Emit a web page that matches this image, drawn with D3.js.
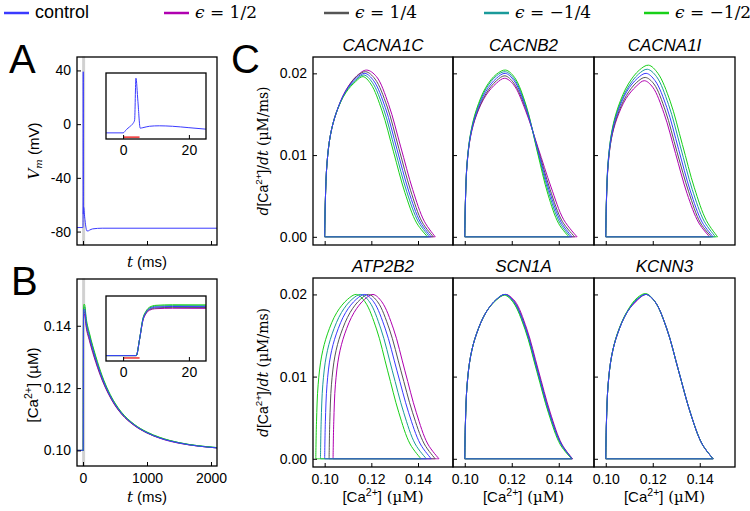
<!DOCTYPE html>
<html>
<head>
<meta charset="utf-8">
<script src="https://cdn.jsdelivr.net/npm/d3@7"></script>
<style>
  body { margin: 0; background: #fff; }
</style>
</head>
<body>
<script>
// ---- series ----
var seriesLabels = ["control", "1/2", "1/4", "\u22121/4", "\u22121/2"];
var seriesColors = ["#3a3aff", "#b000b0", "#555555", "#1a9a9a", "#18d018"];
var drawOrder = [1, 2, 3, 4, 0];

// ---- panel A: membrane potential (control) ----
var vTime = [-100, -5, 0, 1, 2, 3, 3.5, 3.9, 4.5, 5.2, 6, 8, 11, 15, 20, 25, 30, 40, 50, 60, 80, 100, 150, 300, 1000, 2100];
var vMem = [-77, -77, -77, -70, -64, -57, -50, 39, -10, -67, -66, -63, -62, -63, -66, -69, -71, -75, -78, -79.5, -79.5, -79, -78, -77.5, -77.5, -77.5];

// ---- panel B: [Ca2+] for each series ----
var caTime = [-100, -5, 0, 4, 5, 6, 7, 8, 10, 15, 25, 50, 100, 200, 300, 400, 500, 600, 800, 1000, 1200, 1500, 1800, 2100];
var caControl = [0.1, 0.1, 0.1, 0.1, 0.1150, 0.1330, 0.1400, 0.1432, 0.1448, 0.1453, 0.1452, 0.1410, 0.1365, 0.1292, 0.1232, 0.1185, 0.1148, 0.1120, 0.1082, 0.1057, 0.1040, 0.1024, 0.1014, 0.1008];
var caPlusHalf = [0.1, 0.1, 0.1, 0.1, 0.1148, 0.1320, 0.1388, 0.1418, 0.1433, 0.1437, 0.1436, 0.1395, 0.1352, 0.1282, 0.1225, 0.1180, 0.1144, 0.1117, 0.1080, 0.1056, 0.1039, 0.1023, 0.1014, 0.1008];
var caPlusQuarter = [0.1, 0.1, 0.1, 0.1, 0.1149, 0.1325, 0.1394, 0.1425, 0.1440, 0.1445, 0.1444, 0.1402, 0.1358, 0.1287, 0.1228, 0.1182, 0.1146, 0.1118, 0.1081, 0.1056, 0.1040, 0.1024, 0.1014, 0.1008];
var caMinusQuarter = [0.1, 0.1, 0.1, 0.1, 0.1151, 0.1335, 0.1406, 0.1439, 0.1456, 0.1461, 0.1460, 0.1417, 0.1371, 0.1297, 0.1235, 0.1187, 0.1150, 0.1121, 0.1083, 0.1058, 0.1041, 0.1025, 0.1015, 0.1009];
var caMinusHalf = [0.1, 0.1, 0.1, 0.1, 0.1152, 0.1340, 0.1412, 0.1446, 0.1464, 0.1469, 0.1468, 0.1424, 0.1377, 0.1302, 0.1239, 0.1190, 0.1152, 0.1123, 0.1084, 0.1059, 0.1042, 0.1025, 0.1015, 0.1009];
var stimTime = [0, 5];

// ---- panel C: phase loops, [Ca] (x) and d[Ca]/dt (y); order control, +1/2, +1/4, -1/4, -1/2 ----
var genes = ["CACNA1C", "CACNB2", "CACNA1I", "ATP2B2", "SCN1A", "KCNN3"];

var xCACNA1C = [
  [0.1000, 0.1003, 0.1010, 0.1025, 0.1050, 0.1090, 0.1135, 0.1172, 0.1210, 0.1260, 0.1310, 0.1360, 0.1410, 0.1457],
  [0.1000, 0.1003, 0.1010, 0.1025, 0.1050, 0.1090, 0.1138, 0.1180, 0.1222, 0.1274, 0.1326, 0.1377, 0.1427, 0.1474],
  [0.1000, 0.1003, 0.1010, 0.1025, 0.1050, 0.1090, 0.1136, 0.1176, 0.1216, 0.1267, 0.1318, 0.1368, 0.1418, 0.1466],
  [0.1000, 0.1003, 0.1010, 0.1025, 0.1050, 0.1090, 0.1134, 0.1168, 0.1204, 0.1253, 0.1302, 0.1352, 0.1402, 0.1449],
  [0.1000, 0.1003, 0.1010, 0.1025, 0.1050, 0.1090, 0.1133, 0.1164, 0.1198, 0.1246, 0.1295, 0.1344, 0.1394, 0.1441]
];
var yCACNA1C = [
  [0, 0.0045, 0.0090, 0.0125, 0.0152, 0.0178, 0.0194, 0.0200, 0.0191, 0.0158, 0.0107, 0.0056, 0.0018, 0],
  [0, 0.0045, 0.0090, 0.0125, 0.0152, 0.0179, 0.0197, 0.0204, 0.0196, 0.0162, 0.0110, 0.0058, 0.0019, 0],
  [0, 0.0045, 0.0090, 0.0125, 0.0152, 0.0178, 0.0196, 0.0202, 0.0193, 0.0160, 0.0108, 0.0057, 0.0018, 0],
  [0, 0.0045, 0.0090, 0.0125, 0.0152, 0.0177, 0.0192, 0.0198, 0.0189, 0.0156, 0.0106, 0.0055, 0.0018, 0],
  [0, 0.0045, 0.0090, 0.0125, 0.0152, 0.0176, 0.0190, 0.0196, 0.0187, 0.0154, 0.0104, 0.0054, 0.0017, 0]
];

var xCACNB2 = [
  [0.1000, 0.1003, 0.1010, 0.1025, 0.1050, 0.1090, 0.1135, 0.1172, 0.1210, 0.1260, 0.1310, 0.1360, 0.1410, 0.1457],
  [0.1000, 0.1003, 0.1010, 0.1025, 0.1050, 0.1090, 0.1135, 0.1170, 0.1208, 0.1258, 0.1312, 0.1367, 0.1421, 0.1478],
  [0.1000, 0.1003, 0.1010, 0.1025, 0.1050, 0.1090, 0.1135, 0.1171, 0.1209, 0.1259, 0.1311, 0.1363, 0.1415, 0.1468],
  [0.1000, 0.1003, 0.1010, 0.1025, 0.1050, 0.1090, 0.1135, 0.1173, 0.1211, 0.1261, 0.1309, 0.1357, 0.1405, 0.1450],
  [0.1000, 0.1003, 0.1010, 0.1025, 0.1050, 0.1090, 0.1135, 0.1174, 0.1212, 0.1262, 0.1308, 0.1354, 0.1400, 0.1443]
];
var yCACNB2 = [
  [0, 0.0045, 0.0090, 0.0125, 0.0152, 0.0178, 0.0194, 0.0200, 0.0191, 0.0158, 0.0107, 0.0056, 0.0018, 0],
  [0, 0.0045, 0.0089, 0.0123, 0.0149, 0.0173, 0.0188, 0.0194, 0.0186, 0.0155, 0.0109, 0.0061, 0.0021, 0],
  [0, 0.0045, 0.0090, 0.0124, 0.0150, 0.0175, 0.0191, 0.0197, 0.0188, 0.0157, 0.0108, 0.0058, 0.0019, 0],
  [0, 0.0045, 0.0090, 0.0126, 0.0154, 0.0181, 0.0197, 0.0202, 0.0193, 0.0159, 0.0106, 0.0054, 0.0017, 0],
  [0, 0.0045, 0.0091, 0.0127, 0.0156, 0.0183, 0.0199, 0.0204, 0.0195, 0.0160, 0.0105, 0.0052, 0.0016, 0]
];

var xCACNA1I = [
  [0.1000, 0.1003, 0.1010, 0.1025, 0.1050, 0.1090, 0.1135, 0.1172, 0.1210, 0.1260, 0.1310, 0.1360, 0.1410, 0.1457],
  [0.1000, 0.1003, 0.1010, 0.1024, 0.1048, 0.1086, 0.1129, 0.1164, 0.1200, 0.1248, 0.1297, 0.1346, 0.1396, 0.1442],
  [0.1000, 0.1003, 0.1010, 0.1025, 0.1049, 0.1088, 0.1132, 0.1168, 0.1205, 0.1254, 0.1303, 0.1353, 0.1403, 0.1450],
  [0.1000, 0.1003, 0.1010, 0.1026, 0.1052, 0.1093, 0.1139, 0.1177, 0.1216, 0.1267, 0.1318, 0.1368, 0.1419, 0.1467],
  [0.1000, 0.1003, 0.1011, 0.1027, 0.1054, 0.1096, 0.1143, 0.1182, 0.1222, 0.1274, 0.1326, 0.1377, 0.1428, 0.1476]
];
var yCACNA1I = [
  [0, 0.0045, 0.0090, 0.0125, 0.0152, 0.0178, 0.0194, 0.0200, 0.0191, 0.0158, 0.0107, 0.0056, 0.0018, 0],
  [0, 0.0044, 0.0087, 0.0120, 0.0145, 0.0169, 0.0184, 0.0191, 0.0183, 0.0151, 0.0102, 0.0053, 0.0017, 0],
  [0, 0.0044, 0.0088, 0.0122, 0.0148, 0.0173, 0.0189, 0.0195, 0.0187, 0.0154, 0.0104, 0.0055, 0.0017, 0],
  [0, 0.0046, 0.0092, 0.0128, 0.0156, 0.0182, 0.0199, 0.0205, 0.0196, 0.0162, 0.0110, 0.0058, 0.0019, 0],
  [0, 0.0047, 0.0094, 0.0131, 0.0160, 0.0187, 0.0204, 0.0210, 0.0200, 0.0166, 0.0113, 0.0060, 0.0020, 0]
];

var xATP2B2 = [
  [0.1000, 0.1003, 0.1010, 0.1025, 0.1050, 0.1090, 0.1135, 0.1172, 0.1210, 0.1260, 0.1310, 0.1360, 0.1410, 0.1457],
  [0.1036, 0.1039, 0.1046, 0.1061, 0.1086, 0.1126, 0.1171, 0.1207, 0.1245, 0.1295, 0.1344, 0.1393, 0.1442, 0.1490],
  [0.1019, 0.1022, 0.1029, 0.1044, 0.1069, 0.1109, 0.1153, 0.1188, 0.1227, 0.1277, 0.1327, 0.1377, 0.1427, 0.1474],
  [0.0982, 0.0985, 0.0992, 0.1007, 0.1032, 0.1072, 0.1117, 0.1155, 0.1192, 0.1241, 0.1290, 0.1339, 0.1388, 0.1436],
  [0.0962, 0.0965, 0.0972, 0.0987, 0.1012, 0.1052, 0.1098, 0.1136, 0.1173, 0.1222, 0.1270, 0.1318, 0.1366, 0.1413]
];
var yATP2B2 = [
  [0, 0.0045, 0.0090, 0.0125, 0.0152, 0.0178, 0.0194, 0.0200, 0.0191, 0.0158, 0.0107, 0.0056, 0.0018, 0],
  [0, 0.0045, 0.0090, 0.0125, 0.0152, 0.0178, 0.0194, 0.0200, 0.0191, 0.0158, 0.0107, 0.0056, 0.0018, 0],
  [0, 0.0045, 0.0090, 0.0125, 0.0152, 0.0178, 0.0194, 0.0200, 0.0191, 0.0158, 0.0107, 0.0056, 0.0018, 0],
  [0, 0.0045, 0.0090, 0.0125, 0.0152, 0.0178, 0.0194, 0.0200, 0.0191, 0.0158, 0.0107, 0.0056, 0.0018, 0],
  [0, 0.0045, 0.0090, 0.0125, 0.0152, 0.0178, 0.0194, 0.0200, 0.0191, 0.0158, 0.0107, 0.0056, 0.0018, 0]
];

var xSCN1A = [
  [0.1000, 0.1003, 0.1010, 0.1025, 0.1050, 0.1090, 0.1135, 0.1172, 0.1210, 0.1260, 0.1310, 0.1360, 0.1410, 0.1457],
  [0.1000, 0.1003, 0.1010, 0.1025, 0.1050, 0.1090, 0.1136, 0.1174, 0.1213, 0.1263, 0.1313, 0.1363, 0.1413, 0.1459],
  [0.1000, 0.1003, 0.1010, 0.1025, 0.1050, 0.1090, 0.1135, 0.1173, 0.1211, 0.1261, 0.1311, 0.1361, 0.1411, 0.1458],
  [0.1000, 0.1003, 0.1010, 0.1025, 0.1050, 0.1090, 0.1134, 0.1171, 0.1209, 0.1259, 0.1309, 0.1359, 0.1409, 0.1456],
  [0.1000, 0.1003, 0.1010, 0.1025, 0.1050, 0.1090, 0.1134, 0.1170, 0.1207, 0.1257, 0.1307, 0.1357, 0.1407, 0.1455]
];
var ySCN1A = [
  [0, 0.0045, 0.0090, 0.0125, 0.0152, 0.0178, 0.0194, 0.0200, 0.0191, 0.0158, 0.0107, 0.0056, 0.0018, 0],
  [0, 0.0045, 0.0090, 0.0125, 0.0152, 0.0178, 0.0194, 0.0200, 0.0192, 0.0159, 0.0108, 0.0057, 0.0018, 0],
  [0, 0.0045, 0.0090, 0.0125, 0.0152, 0.0178, 0.0194, 0.0200, 0.0191, 0.0158, 0.0107, 0.0056, 0.0018, 0],
  [0, 0.0045, 0.0090, 0.0125, 0.0152, 0.0178, 0.0194, 0.0200, 0.0190, 0.0157, 0.0106, 0.0055, 0.0018, 0],
  [0, 0.0045, 0.0090, 0.0125, 0.0152, 0.0178, 0.0193, 0.0199, 0.0190, 0.0157, 0.0106, 0.0055, 0.0017, 0]
];

var xKCNN3 = [
  [0.1000, 0.1003, 0.1010, 0.1025, 0.1050, 0.1090, 0.1135, 0.1172, 0.1210, 0.1260, 0.1310, 0.1360, 0.1410, 0.1457],
  [0.1000, 0.1003, 0.1010, 0.1025, 0.1050, 0.1090, 0.1135, 0.1172, 0.1210, 0.1260, 0.1310, 0.1360, 0.1410, 0.1457],
  [0.1000, 0.1003, 0.1010, 0.1025, 0.1050, 0.1090, 0.1135, 0.1172, 0.1210, 0.1260, 0.1310, 0.1360, 0.1410, 0.1457],
  [0.1000, 0.1003, 0.1010, 0.1025, 0.1050, 0.1090, 0.1135, 0.1172, 0.1210, 0.1260, 0.1310, 0.1360, 0.1410, 0.1457],
  [0.1000, 0.1003, 0.1010, 0.1025, 0.1050, 0.1090, 0.1134, 0.1171, 0.1210, 0.1260, 0.1310, 0.1360, 0.1410, 0.1457]
];
var yKCNN3 = [
  [0, 0.0045, 0.0090, 0.0125, 0.0152, 0.0178, 0.0194, 0.0200, 0.0191, 0.0158, 0.0107, 0.0056, 0.0018, 0],
  [0, 0.0045, 0.0090, 0.0125, 0.0152, 0.0178, 0.0193, 0.0200, 0.0191, 0.0158, 0.0107, 0.0056, 0.0018, 0],
  [0, 0.0045, 0.0090, 0.0125, 0.0152, 0.0178, 0.0194, 0.0200, 0.0191, 0.0158, 0.0107, 0.0056, 0.0018, 0],
  [0, 0.0045, 0.0090, 0.0125, 0.0152, 0.0178, 0.0195, 0.0200, 0.0191, 0.0158, 0.0107, 0.0056, 0.0018, 0],
  [0, 0.0045, 0.0090, 0.0125, 0.0153, 0.0179, 0.0196, 0.0201, 0.0191, 0.0158, 0.0107, 0.0056, 0.0018, 0]
];

var caX = [xCACNA1C, xCACNB2, xCACNA1I, xATP2B2, xSCN1A, xKCNN3];
var caY = [yCACNA1C, yCACNB2, yCACNA1I, yATP2B2, ySCN1A, yKCNN3];

// ---- ticks ----
var tTicks = [0, 1000, 2000];
var vTicks = [-80, -40, 0, 40];
var bTicks = [0.10, 0.12, 0.14];
var insetTicks = [0, 20];
var cxTicks = [0.10, 0.12, 0.14];
var cyTicks = [0.00, 0.01, 0.02];

var W = 750, H = 511;
var FONT = "'Liberation Sans', Arial, sans-serif";
var SERIF = "'DejaVu Serif', 'Liberation Serif', serif";

var svg = d3.select("body").append("svg")
    .attr("width", W)
    .attr("height", H)
    .style("font-family", FONT);

var clipCount = 0;
function clipFor(x, y) {
    var id = "clip" + (clipCount++);
    svg.append("clipPath").attr("id", id)
        .append("rect")
        .attr("x", x.range()[0]).attr("y", y.range()[1])
        .attr("width", x.range()[1] - x.range()[0])
        .attr("height", y.range()[0] - y.range()[1]);
    return "url(#" + id + ")";
}

function frame(x, y) {
    svg.append("rect")
        .attr("x", x.range()[0]).attr("y", y.range()[1])
        .attr("width", x.range()[1] - x.range()[0])
        .attr("height", y.range()[0] - y.range()[1])
        .attr("fill", "none")
        .attr("stroke", "#000")
        .attr("stroke-width", 1.3);
}

function styleAxis(a) {
    a.select(".domain").remove();
    a.attr("font-family", FONT).attr("font-size", 14);
    a.selectAll("line").attr("stroke", "#000");
    a.selectAll("text").attr("fill", "#000");
}

function xAxis(x, y, ticks, fmt, pad) {
    svg.append("g")
        .attr("transform", "translate(0," + y.range()[0] + ")")
        .call(d3.axisBottom(x).tickValues(ticks).tickSizeInner(-4).tickSizeOuter(0)
            .tickPadding(pad || 7).tickFormat(fmt || ""))
        .call(styleAxis);
}

function yAxis(x, y, ticks, fmt) {
    svg.append("g")
        .attr("transform", "translate(" + x.range()[0] + ",0)")
        .call(d3.axisLeft(y).tickValues(ticks).tickSizeInner(-4).tickSizeOuter(0)
            .tickPadding(6).tickFormat(fmt || ""))
        .call(styleAxis);
}

function letter(t, x, y) {
    svg.append("text").attr("x", x).attr("y", y)
        .attr("font-size", 40).text(t);
}

function tLabel(cx, by) {
    var t = svg.append("text").attr("x", cx).attr("y", by)
        .attr("text-anchor", "middle").attr("font-size", 15);
    t.append("tspan").attr("font-family", SERIF).attr("font-style", "italic").text("t");
    t.append("tspan").text(" (ms)");
}

function caLabel(t, size) {
    t.append("tspan").text("[Ca");
    t.append("tspan").attr("font-size", size * 0.7).attr("dy", -size * 0.4).text("2+");
    t.append("tspan").attr("dy", size * 0.4).text("]");
}

var fmt2 = d3.format(".2f");

// ================= Panel A =================
var xA = d3.scaleLinear().domain([-94, 2094]).range([77, 217]);
var yA = d3.scaleLinear().domain([-90, 50]).range([245, 57]);

svg.append("rect")
    .attr("x", xA(-5)).attr("y", yA.range()[1])
    .attr("width", xA(25) - xA(-5))
    .attr("height", yA.range()[0] - yA.range()[1])
    .attr("fill", "#d0d0d0").attr("stroke", "#d0d0d0").attr("stroke-width", 1);

var vPoints = vTime.map(function (t, i) { return [t, vMem[i]]; });
var lineA = d3.line().x(function (d) { return xA(d[0]); }).y(function (d) { return yA(d[1]); })
    .curve(d3.curveMonotoneX);
svg.append("path").attr("d", lineA(vPoints)).attr("clip-path", clipFor(xA, yA))
    .attr("fill", "none").attr("stroke", seriesColors[0]).attr("stroke-width", 1);
frame(xA, yA);
yAxis(xA, yA, vTicks, function (d) { return String(d); });
xAxis(xA, yA, tTicks, "");

// inset A
var xAi = d3.scaleLinear().domain([-5.2, 25.2]).range([106, 206]);
var yAi = d3.scaleLinear().domain([-90, 50]).range([139, 73]);
svg.append("rect").attr("x", 106).attr("y", 73).attr("width", 100).attr("height", 66).attr("fill", "#fff");
var lineAi = d3.line().x(function (d) { return xAi(d[0]); }).y(function (d) { return yAi(d[1]); })
    .curve(d3.curveMonotoneX);
svg.append("path").attr("d", lineAi(vPoints)).attr("clip-path", clipFor(xAi, yAi))
    .attr("fill", "none").attr("stroke", seriesColors[0]).attr("stroke-width", 1);
svg.append("line")
    .attr("x1", xAi(stimTime[0])).attr("x2", xAi(stimTime[1]))
    .attr("y1", yAi(-86)).attr("y2", yAi(-86))
    .attr("stroke", "#ee1111").attr("stroke-width", 1.3);
frame(xAi, yAi);
xAxis(xAi, yAi, insetTicks, function (d) { return String(d); }, 6);

letter("A", 9, 73);
var vl = svg.append("text").attr("transform", "translate(39,151) rotate(-90)")
    .attr("text-anchor", "middle").attr("font-size", 15);
vl.append("tspan").attr("font-family", SERIF).attr("font-style", "italic").text("V");
vl.append("tspan").attr("font-family", SERIF).attr("font-style", "italic")
    .attr("font-size", 10).attr("dy", 3).text("m");
vl.append("tspan").attr("dy", -3).text(" (mV)");
tLabel(147, 267);

// ================= Panel B =================
var xB = d3.scaleLinear().domain([-94, 2094]).range([77, 217]);
var yB = d3.scaleLinear().domain([0.095, 0.155]).range([466, 279]);
var caSeries = [caControl, caPlusHalf, caPlusQuarter, caMinusQuarter, caMinusHalf];

svg.append("rect")
    .attr("x", xB(-5)).attr("y", yB.range()[1])
    .attr("width", xB(25) - xB(-5))
    .attr("height", yB.range()[0] - yB.range()[1])
    .attr("fill", "#d0d0d0").attr("stroke", "#d0d0d0").attr("stroke-width", 1);

var clipB = clipFor(xB, yB);
var lineB = d3.line().x(function (d) { return xB(d[0]); }).y(function (d) { return yB(d[1]); })
    .curve(d3.curveMonotoneX);
drawOrder.forEach(function (s) {
    var pts = caTime.map(function (t, i) { return [t, caSeries[s][i]]; });
    svg.append("path").attr("d", lineB(pts)).attr("clip-path", clipB)
        .attr("fill", "none").attr("stroke", seriesColors[s]).attr("stroke-width", 1);
});
frame(xB, yB);
yAxis(xB, yB, bTicks, fmt2);
xAxis(xB, yB, tTicks, function (d) { return String(d); });

// inset B
var xBi = d3.scaleLinear().domain([-5.2, 25.2]).range([106, 206]);
var yBi = d3.scaleLinear().domain([0.095, 0.155]).range([361, 296]);
svg.append("rect").attr("x", 106).attr("y", 296).attr("width", 100).attr("height", 65).attr("fill", "#fff");
var clipBi = clipFor(xBi, yBi);
var lineBi = d3.line().x(function (d) { return xBi(d[0]); }).y(function (d) { return yBi(d[1]); })
    .curve(d3.curveMonotoneX);
drawOrder.forEach(function (s) {
    var pts = caTime.map(function (t, i) { return [t, caSeries[s][i]]; });
    svg.append("path").attr("d", lineBi(pts)).attr("clip-path", clipBi)
        .attr("fill", "none").attr("stroke", seriesColors[s]).attr("stroke-width", 1);
});
svg.append("line")
    .attr("x1", xBi(stimTime[0])).attr("x2", xBi(stimTime[1]))
    .attr("y1", yBi(0.0978)).attr("y2", yBi(0.0978))
    .attr("stroke", "#ee1111").attr("stroke-width", 1.3);
frame(xBi, yBi);
xAxis(xBi, yBi, insetTicks, function (d) { return String(d); }, 6);

letter("B", 11, 295);
var bl = svg.append("text").attr("transform", "translate(38,385) rotate(-90)")
    .attr("text-anchor", "middle").attr("font-size", 15);
caLabel(bl, 15);
bl.append("tspan").text(" (\u00b5M)");
tLabel(147, 502);

// ================= Panel C =================
var colX = [313, 453, 594, 735];
var rowY = [[57, 245], [278, 467]];
var loop = d3.line().curve(d3.curveCatmullRom.alpha(0.5));

genes.forEach(function (gene, gi) {
    var r = Math.floor(gi / 3), c = gi % 3;
    var x = d3.scaleLinear().domain([0.095, 0.155]).range([colX[c], colX[c + 1]]);
    var y = d3.scaleLinear().domain([-0.001, 0.022]).range([rowY[r][1], rowY[r][0]]);
    var g = svg.append("g");

    drawOrder.forEach(function (s) {
        var xs = caX[gi][s], ys = caY[gi][s];
        var pts = xs.map(function (v, k) { return [x(v), y(ys[k])]; });
        g.append("path").attr("d", loop(pts))
            .attr("fill", "none").attr("stroke", seriesColors[s]).attr("stroke-width", 1);
    });
    // return branch along d[Ca]/dt = 0
    drawOrder.forEach(function (s) {
        var xs = caX[gi][s];
        g.append("line")
            .attr("x1", x(xs[xs.length - 1])).attr("x2", x(xs[0]))
            .attr("y1", y(0)).attr("y2", y(0))
            .attr("stroke", seriesColors[s]).attr("stroke-opacity", 0.8).attr("stroke-width", 1);
    });

    frame(x, y);
    yAxis(x, y, cyTicks, c === 0 ? fmt2 : "");
    xAxis(x, y, cxTicks, r === 1 ? fmt2 : "");

    svg.append("text")
        .attr("x", (colX[c] + colX[c + 1]) / 2).attr("y", rowY[r][0] - 6)
        .attr("text-anchor", "middle").attr("font-size", 17).attr("font-style", "italic")
        .text(gene);

    if (c === 0) {
        var yl = svg.append("text")
            .attr("transform", "translate(268," + (rowY[r][0] + rowY[r][1]) / 2 + ") rotate(-90)")
            .attr("text-anchor", "middle").attr("font-size", 14);
        yl.append("tspan").attr("font-family", SERIF).attr("font-style", "italic").text("d");
        caLabel(yl, 14);
        yl.append("tspan").attr("font-family", SERIF).text("/");
        yl.append("tspan").attr("font-family", SERIF).attr("font-style", "italic").text("dt");
        yl.append("tspan").attr("font-family", SERIF).text(" (\u00b5M/ms)");
    }
    if (r === 1) {
        var xl = svg.append("text")
            .attr("x", (colX[c] + colX[c + 1]) / 2).attr("y", 502)
            .attr("text-anchor", "middle").attr("font-size", 15);
        caLabel(xl, 15);
        xl.append("tspan").attr("font-family", SERIF).text(" (\u00b5M)");
    }
});
letter("C", 231, 73);

// ================= Legend =================
seriesLabels.forEach(function (name, i) {
    var lx = 4 + i * 160;
    svg.append("line")
        .attr("x1", lx).attr("x2", lx + 25).attr("y1", 13).attr("y2", 13)
        .attr("stroke", seriesColors[i]).attr("stroke-width", 2.5);
    var t = svg.append("text").attr("x", lx + 31).attr("y", 18);
    if (i === 0) {
        t.attr("font-size", 18).text(name);
    } else {
        t.attr("font-family", SERIF).attr("font-size", 17);
        t.append("tspan").attr("font-style", "italic").text("\u03f5");
        t.append("tspan").text(" = " + name);
    }
});
</script>
</body>
</html>
